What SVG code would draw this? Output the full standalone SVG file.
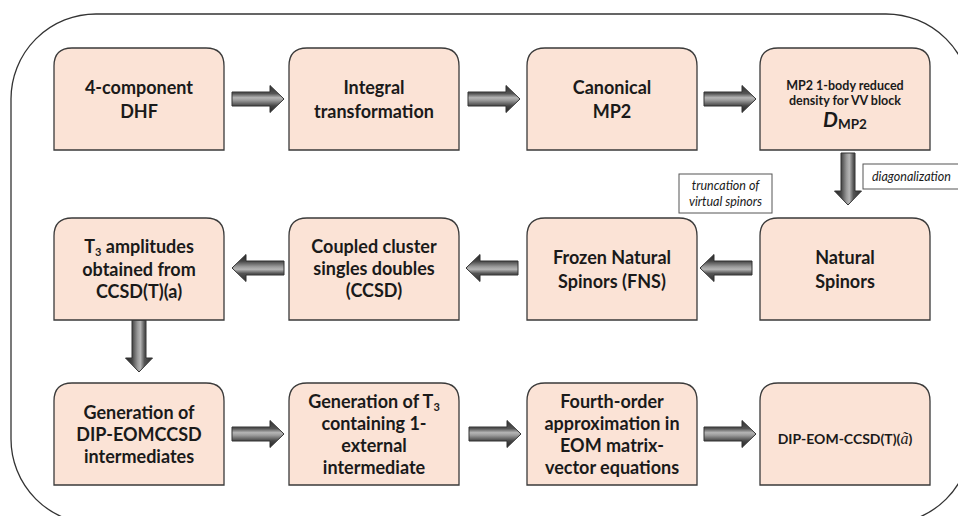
<svg xmlns="http://www.w3.org/2000/svg" width="958" height="516" viewBox="0 0 958 516">
<defs>
<linearGradient id="ag" x1="0" y1="0" x2="0" y2="1">
<stop offset="0" stop-color="#2e2e2e"/>
<stop offset="0.3" stop-color="#555"/>
<stop offset="0.45" stop-color="#b5b5b5"/>
<stop offset="0.55" stop-color="#9a9a9a"/>
<stop offset="0.75" stop-color="#474747"/>
<stop offset="1" stop-color="#222"/>
</linearGradient>
<path id="arr" d="M0,-7 H38 V-13.5 L52,0 L38,13.5 V7 H0 Z" fill="url(#ag)" stroke="#333" stroke-width="1"/>
<path id="box" d="M0,102 V18 Q0,0 18,0 H152 Q170,0 170,18 V102 Z"/>
</defs>
<style>
.bx{fill:#fbe3d6;stroke:#3a3a3a;stroke-width:1.3}
text{font-family:Lato,"Liberation Sans",sans-serif;fill:#1a1a1a}
.t{font-size:18px;font-weight:700;text-anchor:middle}
.s{font-size:12.5px;font-weight:700;text-anchor:middle}
.lb{fill:#fff;stroke:#555;stroke-width:1}
.it{font-size:12.5px;font-style:italic}
</style>
<rect x="11" y="14" width="960" height="510" rx="85" ry="85" fill="none" stroke="#333" stroke-width="1.3"/>

<g id="connectors">
<use href="#arr" transform="translate(232,99)"/>
<use href="#arr" transform="translate(468,99)"/>
<use href="#arr" transform="translate(704,99)"/>
<use href="#arr" transform="translate(848,153) rotate(90)"/>
<use href="#arr" transform="translate(752,268) rotate(180)"/>
<use href="#arr" transform="translate(518,268) rotate(180)"/>
<use href="#arr" transform="translate(284,268) rotate(180)"/>
<use href="#arr" transform="translate(139,320) rotate(90)"/>
<use href="#arr" transform="translate(232,434)"/>
<use href="#arr" transform="translate(469,434)"/>
<use href="#arr" transform="translate(704,434)"/>
</g>

<g id="lbl-diag">
<rect class="lb" x="863" y="164" width="105" height="25"/>
<text class="it" x="872" y="181">diagonalization</text>
</g>
<g id="lbl-trunc">
<rect class="lb" x="679" y="174" width="93" height="39"/>
<text class="it" x="725.5" y="190" text-anchor="middle">truncation of</text>
<text class="it" x="725.5" y="206" text-anchor="middle">virtual spinors</text>
</g>

<g id="n1">
<use href="#box" class="bx" x="54" y="48"/>
<text class="t" x="139" y="94">4-component</text>
<text class="t" x="139" y="118">DHF</text>
</g>
<g id="n2">
<use href="#box" class="bx" x="289" y="48"/>
<text class="t" x="374" y="94">Integral</text>
<text class="t" x="374" y="118">transformation</text>
</g>
<g id="n3">
<use href="#box" class="bx" x="527" y="48"/>
<text class="t" x="612" y="94">Canonical</text>
<text class="t" x="612" y="118">MP2</text>
</g>
<g id="n4">
<use href="#box" class="bx" x="760" y="48"/>
<text class="s" x="845" y="90">MP2 1-body reduced</text>
<text class="s" x="845" y="105">density for VV block</text>
<text x="845" y="127" text-anchor="middle" font-weight="700"><tspan font-size="21" font-style="italic">D</tspan><tspan font-size="13.5" dy="2">MP2</tspan></text>
</g>

<g id="n5">
<use href="#box" class="bx" x="760" y="218"/>
<text class="t" x="845" y="264">Natural</text>
<text class="t" x="845" y="288">Spinors</text>
</g>
<g id="n6">
<use href="#box" class="bx" x="527" y="218"/>
<text class="t" x="612" y="264">Frozen Natural</text>
<text class="t" x="612" y="288">Spinors (FNS)</text>
</g>
<g id="n7">
<use href="#box" class="bx" x="289" y="218"/>
<text class="t" x="374" y="253">Coupled cluster</text>
<text class="t" x="374" y="275">singles doubles</text>
<text class="t" x="374" y="297">(CCSD)</text>
</g>
<g id="n8">
<use href="#box" class="bx" x="54" y="218"/>
<text class="t" x="139" y="253">T<tspan font-size="11" dy="3">3</tspan><tspan dy="-3"> amplitudes</tspan></text>
<text class="t" x="139" y="276">obtained from</text>
<text class="t" x="139" y="298">CCSD(T)(a)</text>
</g>

<g id="n9">
<use href="#box" class="bx" x="54" y="383"/>
<text class="t" x="139" y="419">Generation of</text>
<text class="t" x="139" y="441">DIP-EOMCCSD</text>
<text class="t" x="139" y="463">intermediates</text>
</g>
<g id="n10">
<use href="#box" class="bx" x="289" y="383"/>
<text class="t" x="374" y="408">Generation of T<tspan font-size="11" dy="3">3</tspan></text>
<text class="t" x="374" y="430">containing 1-</text>
<text class="t" x="374" y="452">external</text>
<text class="t" x="374" y="474">intermediate</text>
</g>
<g id="n11">
<use href="#box" class="bx" x="527" y="383"/>
<text class="t" x="612" y="408">Fourth-order</text>
<text class="t" x="612" y="430">approximation in</text>
<text class="t" x="612" y="452">EOM matrix-</text>
<text class="t" x="612" y="474">vector equations</text>
</g>
<g id="n12">
<use href="#box" class="bx" x="760" y="383"/>
<text x="845" y="444" text-anchor="middle" font-size="14" font-weight="700">DIP-EOM-CCSD(T)(<tspan font-style="italic" font-weight="400" font-family="'Liberation Serif',serif" font-size="16">ã</tspan>)</text>
</g>
</svg>
